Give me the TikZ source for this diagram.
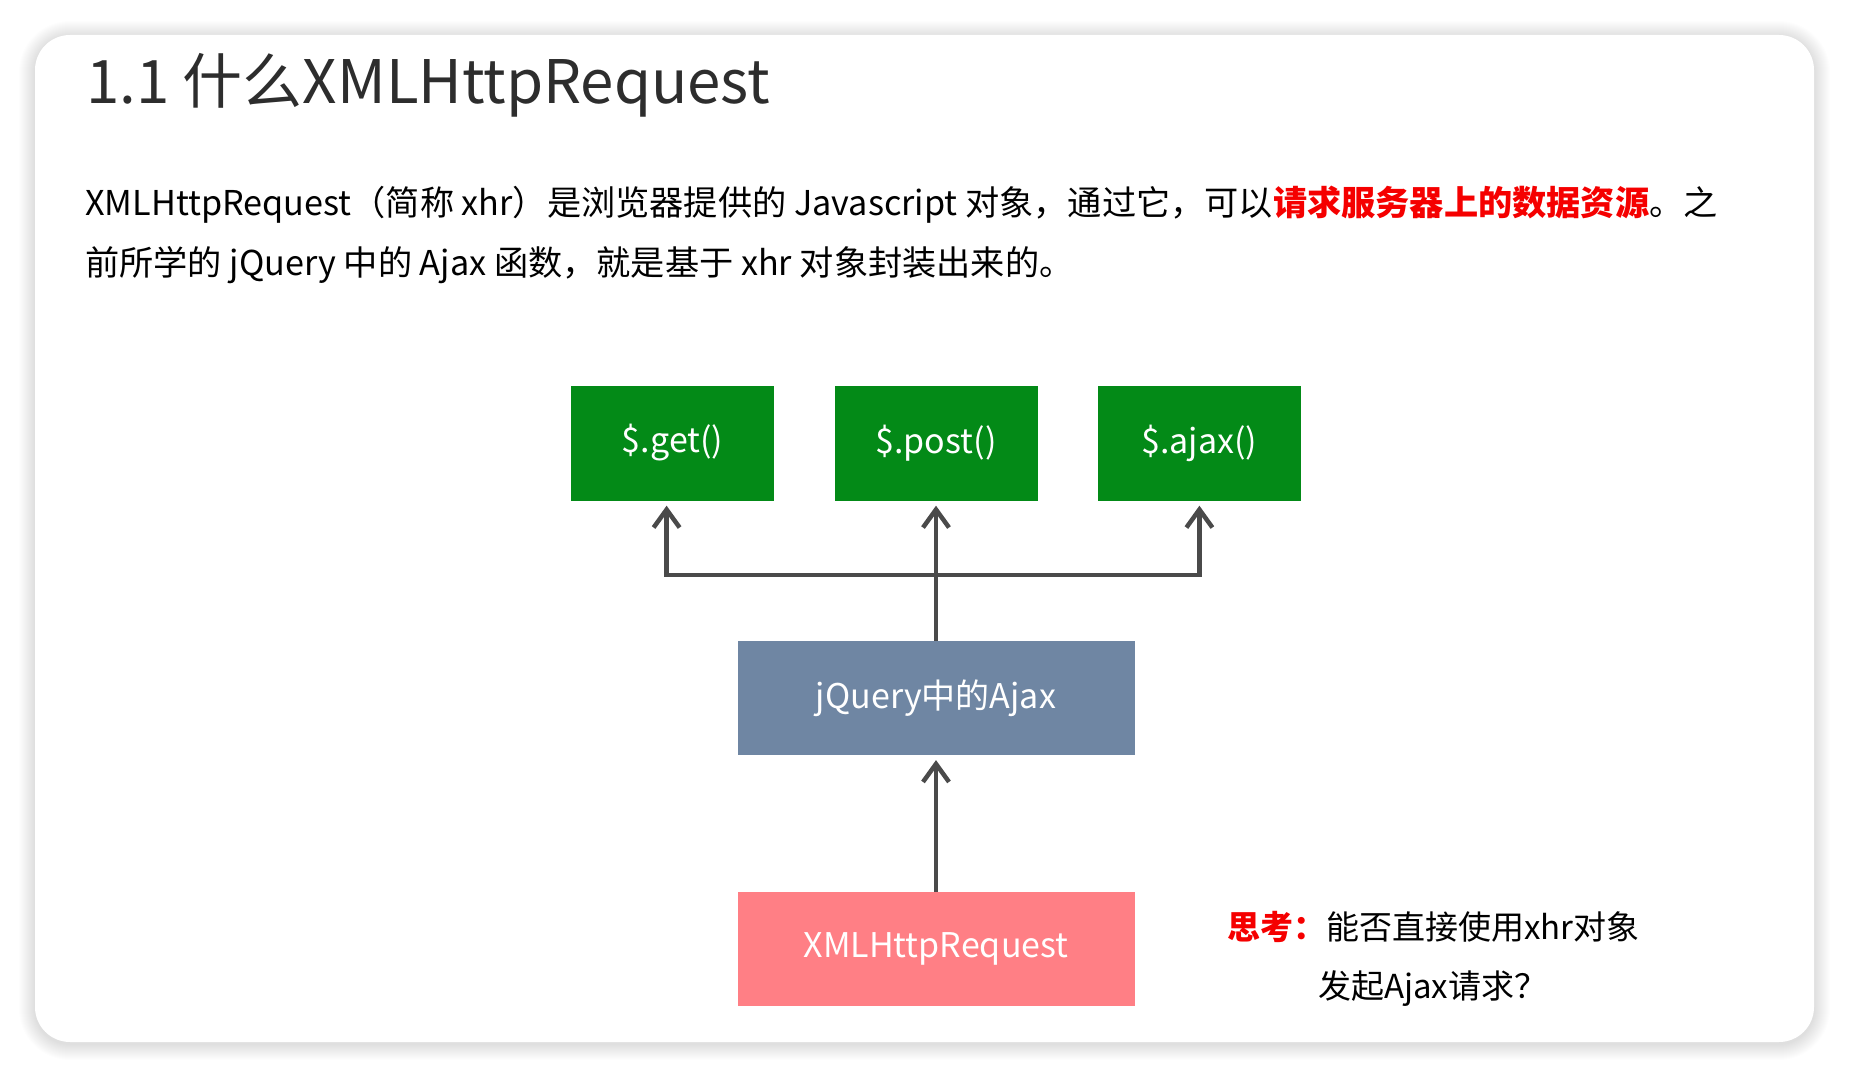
\documentclass[tikz,border=0pt]{standalone}
\usepackage{fontspec}
\setmainfont{Noto Sans CJK SC}
\usetikzlibrary{arrows.meta,positioning}
\definecolor{boxgreen}{RGB}{3,138,23}
\definecolor{boxblue}{RGB}{111,134,163}
\definecolor{boxpink}{RGB}{255,127,133}
\definecolor{linegray}{RGB}{74,74,74}
\definecolor{titlegray}{RGB}{45,45,45}
\definecolor{hotred}{RGB}{245,0,0}

\begin{document}
\begin{tikzpicture}[x=1pt,y=-1pt,
    fnbox/.style={fill=boxgreen,text=white,inner sep=0pt,minimum width=203pt,minimum height=115pt,font=\fontsize{34}{40}\selectfont},
    widebox/.style={inner sep=0pt,text=white,minimum width=397pt,minimum height=114pt,font=\fontsize{34}{40}\selectfont},
    arr/.style={draw=linegray,line width=4.5pt,-{Straight Barb[length=18pt,width=26pt]},shorten >=5pt}]
\useasboundingbox (0,0) rectangle (1850,1078);
\fill[white] (0,0) rectangle (1850,1078);
% card with soft shadow
\foreach \i in {1,...,16}
  \fill[black,opacity=0.009,rounded corners=35+\i] (35-\i,37-\i) rectangle (1814+\i,1044+\i);
\fill[white,rounded corners=35pt] (35,35) rectangle (1814,1042);

\node[anchor=base west,text=titlegray,font=\fontsize{60}{70}\selectfont,inner sep=0pt] (title) at (86,104) {1.1 什么XMLHttpRequest};
\node[anchor=base west,font=\fontsize{34.2}{40}\selectfont,inner sep=0pt] (line1) at (85,215)
  {XMLHttpRequest（简称 xhr）是浏览器提供的 Javascript 对象，通过它，可以\textcolor{hotred}{\bfseries 请求服务器上的数据资源}。之};
\node[anchor=base west,font=\fontsize{34.2}{40}\selectfont,inner sep=0pt] (line2) at (85,275)
  {前所学的 jQuery 中的 Ajax 函数，就是基于 xhr 对象封装出来的。};

\node[fnbox] (post) at (936,443) {\$.post()};
\node[fnbox,left=60pt of post] (get) {\$.get()};
\node[fnbox,right=60pt of post] (ajax) {\$.ajax()};
\node[widebox,fill=boxblue,below=140pt of post] (jq) {jQuery中的Ajax};
\node[widebox,fill=boxpink,below=137pt of jq] (xhr) {XMLHttpRequest};

\coordinate (fork) at (936,575);
\draw[arr] (jq.north) -- (post.south);
\draw[arr] (fork) -| ([xshift=-6pt]get.south);
\draw[arr] (fork) -| (ajax.south);
\draw[arr] (xhr.north) -- (jq.south);

\node[anchor=base west,font=\fontsize{33}{40}\selectfont,inner sep=0pt] (think) at (1227,939)
  {\textcolor{hotred}{\bfseries 思考：}能否直接使用xhr对象};
\node[anchor=base west,font=\fontsize{33}{40}\selectfont,inner sep=0pt] (think2) at (1318,998)
  {发起Ajax请求？};
\end{tikzpicture}
\end{document}
